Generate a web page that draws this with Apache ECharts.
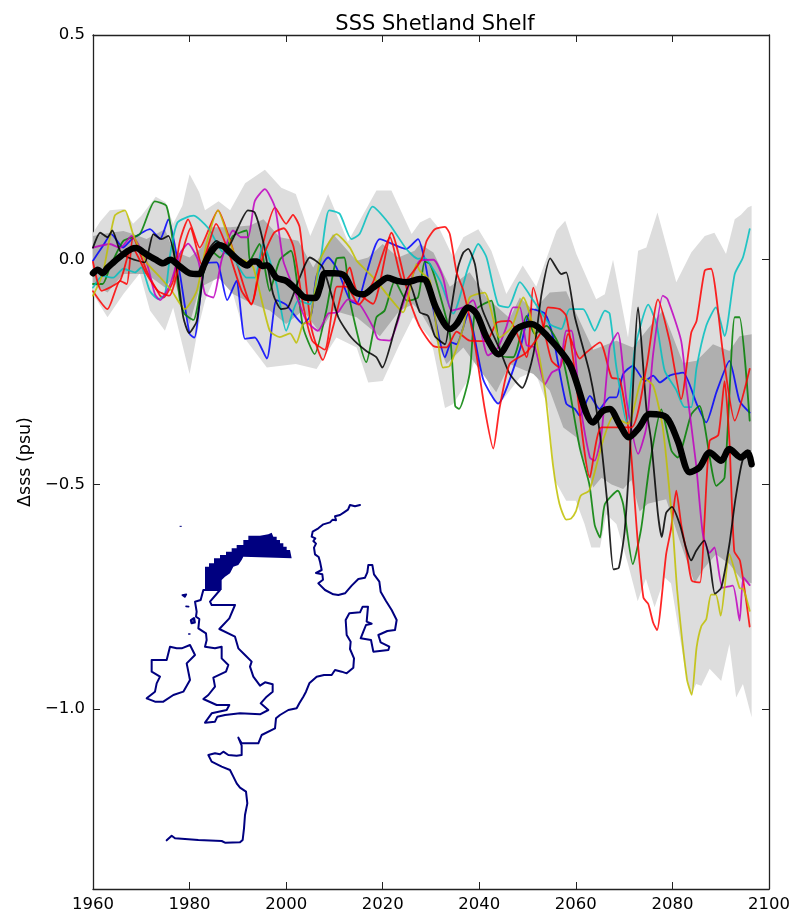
<!DOCTYPE html>
<html>
<head>
<meta charset="utf-8">
<style>html,body{margin:0;padding:0;background:#fff}#c{width:800px;height:915px}</style>
<script src="https://cdn.jsdelivr.net/npm/echarts@6/dist/echarts.min.js"></script>
</head>
<body>
<div id="c"></div>
<script>
const title = "SSS Shetland Shelf";
const yName = "Δsss (psu)";
const xTicks = [1960,1980,2000,2020,2040,2060,2080,2100];
const yTicks = [0.5,0,-0.5,-1.0];

const outerUpper = [[1960,.06],[1961.5,.085],[1963.5,.11],[1966.3,.113],[1968.3,.08],[1970,.098],[1973,.14],[1975,.128],[1976.6,.08],[1978.5,.12],[1980,.19],[1982,.15],[1983.2,.11],[1986,.13],[1988.4,.11],[1991.5,.17],[1995.6,.2],[1999,.16],[2002,.146],[2005,.053],[2008.7,.146],[2012.8,.04],[2018.7,.154],[2021.8,.154],[2026,.057],[2027.7,.083],[2029.8,.094],[2031.8,.068],[2034.6,.005],[2036.7,.05],[2039.8,.068],[2042.5,.02],[2045.6,-.076],[2049,-.013],[2051.8,-.06],[2056,.065],[2057.8,.087],[2060.1,.013],[2064.2,-.088],[2066,-.077],[2067.7,0],[2070.8,-.173],[2072.9,.02],[2074.6,.027],[2076.9,.105],[2080.8,-.05],[2083.9,.016],[2086.7,.053],[2088.7,.06],[2091.1,.013],[2092.9,.09],[2094.2,.1],[2095.6,.116],[2096.4,.12]];
const outerLower = [[1960,-.076],[1963,-.128],[1966.3,-.076],[1969.7,-.03],[1971.8,-.113],[1974.9,-.158],[1976.6,-.106],[1980,-.254],[1981.8,-.151],[1983.2,-.091],[1986,-.017],[1989,-.076],[1991.8,-.18],[1996,-.24],[2002,-.232],[2006.3,-.243],[2010.4,-.173],[2014.6,-.195],[2017,-.273],[2020,-.27],[2023.5,-.188],[2026.3,-.128],[2029.7,-.173],[2030.5,-.202],[2032.9,-.33],[2034.6,-.321],[2038,-.262],[2039.8,-.195],[2042.9,-.314],[2044.2,-.321],[2048.4,-.262],[2051.5,-.247],[2054.3,-.33],[2055.6,-.49],[2058,-.536],[2060,-.536],[2061.8,-.588],[2063.2,-.64],[2065,-.64],[2066.3,-.566],[2068.4,-.588],[2070.8,-.677],[2072.8,-.76],[2074.5,-.71],[2076.3,-.773],[2078.4,-.707],[2079.7,-.72],[2082.8,-.922],[2083.9,-.967],[2084.9,-.944],[2086,-.948],[2087.7,-.91],[2090.1,-.937],[2091.8,-.855],[2093.2,-.974],[2094.6,-.944],[2096.4,-1.018]];
const innerUpper = [[1960,.053],[1963.5,.06],[1966.3,.064],[1968.3,.057],[1971.1,.046],[1974.9,.068],[1976.6,.02],[1980,.005],[1982.5,.027],[1984.6,.072],[1988.4,.072],[1992.5,.076],[1995.3,.09],[1998.7,.05],[2002.5,.042],[2005.6,-.017],[2009.7,.057],[2014.6,-.002],[2017,.005],[2020,.035],[2023.2,.005],[2026.6,.02],[2027.7,.035],[2030.5,.016],[2033.9,-.06],[2038,-.028],[2041.5,-.084],[2046.3,-.13],[2048.4,-.084],[2051.2,-.113],[2054.6,-.073],[2058,-.07],[2060.1,-.12],[2063.6,-.2],[2068.4,-.18],[2071.8,-.195],[2074.6,-.158],[2078,-.113],[2082.2,-.23],[2085,-.225],[2088.4,-.188],[2091.8,-.203],[2093.9,-.17],[2096.4,-.166]];
const innerLower = [[1960,-.054],[1963,-.073],[1966.3,-.032],[1971.1,-.032],[1974.9,-.062],[1976.6,-.04],[1980,-.143],[1982.1,-.062],[1986,-.04],[1989,-.076],[1993.2,-.099],[1996.6,-.113],[2000,-.143],[2003.5,-.113],[2007,-.162],[2009.7,-.113],[2014.6,-.128],[2019.4,-.17],[2023.5,-.113],[2026.3,-.099],[2027.7,-.114],[2030.5,-.165],[2033.2,-.232],[2036.7,-.195],[2043.5,-.295],[2046.3,-.232],[2051.2,-.254],[2054.6,-.291],[2057.4,-.373],[2060.1,-.395],[2063.6,-.507],[2065.3,-.485],[2067.4,-.5],[2069.8,-.51],[2071.5,-.49],[2073.2,-.56],[2074.9,-.543],[2078.7,-.533],[2081.5,-.625],[2084.6,-.72],[2086.3,-.69],[2089,-.655],[2091.8,-.677],[2094.5,-.714],[2096.4,-.72]];

const meanLine = [[1960,-.03],[1961,-.022],[1962,-.03],[1963,-.018],[1964,-.008],[1966,.01],[1968,.024],[1969,.026],[1970.5,.016],[1972,.006],[1973,0],[1974.5,-.008],[1976,0],[1978,-.015],[1980,-.03],[1982,-.032],[1983,-.012],[1984,.01],[1986,.033],[1987,.03],[1988,.02],[1990,0],[1992,-.013],[1993,-.004],[1994,-.004],[1995,-.014],[1996,-.012],[1998,-.04],[2000,-.047],[2002,-.065],[2004,-.084],[2006,-.085],[2007,-.062],[2008,-.03],[2010,-.03],[2012,-.035],[2014,-.07],[2016,-.077],[2018,-.062],[2019.5,-.05],[2021,-.04],[2023,-.047],[2025,-.05],[2027.7,-.043],[2029,-.047],[2031,-.106],[2034,-.154],[2035.3,-.143],[2037.7,-.106],[2039.4,-.12],[2041.5,-.173],[2044,-.21],[2047.7,-.154],[2050.8,-.143],[2054,-.169],[2058.7,-.232],[2063.6,-.362],[2065.5,-.337],[2067,-.332],[2069,-.365],[2071,-.395],[2073,-.375],[2075.3,-.343],[2078.7,-.35],[2081.1,-.403],[2083.6,-.473],[2085.6,-.462],[2087.7,-.429],[2090.1,-.447],[2091.8,-.421],[2094.2,-.44],[2095.6,-.429],[2096.4,-.455]];

const blueLine = [[1960,-.002],[1962,.03],[1963.8,.057],[1966.2,.027],[1968,.045],[1971.8,.068],[1973.9,.046],[1975.6,.09],[1978,-.032],[1980,-.165],[1981,-.173],[1983.2,-.01],[1985.6,-.006],[1987.8,-.09],[1989.7,-.047],[1991.5,-.176],[1993.5,-.173],[1996,-.22],[1998,-.09],[2000,-.1],[2003.5,-.143],[2005.2,-.121],[2006.3,-.036],[2008.7,.005],[2010.4,-.017],[2013.2,-.09],[2014.6,-.098],[2016.6,-.032],[2019.4,.046],[2024.9,.024],[2027.3,.046],[2028.7,-.002],[2030.8,-.128],[2032.9,-.217],[2034.2,-.184],[2035.3,-.188],[2037.7,-.12],[2040.8,-.266],[2043.9,-.32],[2048.4,-.2],[2050.8,-.11],[2053.6,-.12],[2055.3,-.173],[2058,-.32],[2059.8,-.332],[2060.8,-.347],[2062.9,-.303],[2064.9,-.332],[2067,-.306],[2068.4,-.306],[2069.8,-.254],[2071.8,-.236],[2074.3,-.27],[2076,-.258],[2077.4,-.273],[2079.4,-.258],[2082.2,-.251],[2085,-.32],[2087,-.362],[2089.1,-.295],[2091.8,-.225],[2093.9,-.314],[2096,-.34]];
const greenLine = [[1960,-.054],[1962,-.054],[1963.5,-.017],[1966.3,.042],[1969.7,.057],[1972.8,.13],[1975.2,.12],[1976.6,.035],[1978,-.09],[1979,-.121],[1980.8,-.134],[1982.8,-.032],[1984.5,.02],[1986.3,.005],[1989,.053],[1991.8,.065],[1992.5,-.002],[1994.5,.035],[1996.6,-.069],[1998.7,0],[2001,.02],[2003.5,-.15],[2005.9,-.21],[2008.3,-.114],[2010.4,.002],[2012,.005],[2013.2,-.091],[2016.6,-.228],[2018.7,-.128],[2020.4,-.113],[2022.5,-.047],[2025,-.091],[2027.3,-.084],[2028.7,-.004],[2029.8,-.01],[2031.2,-.054],[2033.9,-.165],[2035,-.325],[2035.8,-.332],[2038,-.254],[2039.1,-.113],[2040.8,-.099],[2042.5,-.091],[2044.6,-.213],[2047,-.217],[2049.8,-.125],[2051.5,-.165],[2053.9,-.147],[2056.7,-.195],[2058.7,-.291],[2060.8,-.418],[2062.8,-.5],[2063.9,-.59],[2065,-.618],[2066,-.544],[2068.7,-.514],[2069.8,-.544],[2071.8,-.677],[2073.5,-.6],[2075.3,-.455],[2077.7,-.333],[2079.8,-.425],[2081.1,-.44],[2083.9,-.344],[2085.6,-.325],[2089.1,-.503],[2090.8,-.484],[2092.9,-.128],[2093.9,-.128],[2096,-.358]];
const redLineA = [[1960,-.07],[1963,-.11],[1965.6,-.047],[1967,-.054],[1968.3,.05],[1971.1,-.024],[1973.9,-.08],[1974.6,-.084],[1976.6,-.047],[1978,.042],[1979.7,.09],[1982.1,.027],[1985.9,.11],[1988.4,.042],[1992.8,-.1],[1995.2,.035],[1997.7,.116],[2000,.08],[2001.4,.1],[2002.8,.072],[2005.2,-.15],[2007.6,-.223],[2009.7,-.15],[2013.2,-.017],[2014.6,-.07],[2018,-.098],[2021.8,.06],[2025.6,-.091],[2027.7,-.15],[2030.5,-.192],[2033.2,-.195],[2035.3,-.16],[2038,-.18],[2041.5,-.181],[2043.6,-.14],[2046.3,-.136],[2049.8,-.217],[2051.2,-.062],[2053.6,-.165],[2055,-.225],[2056.7,-.24],[2058.4,-.165],[2060.8,-.22],[2062.2,-.206],[2065,-.184],[2067.4,-.262],[2069.1,-.266],[2071.2,-.403],[2072.8,-.625],[2074,-.752],[2075,-.766],[2076,-.807],[2076.8,-.824],[2078.7,-.655],[2079.7,-.6],[2080.8,-.514],[2081.8,-.588],[2083,-.655],[2084,-.714],[2085.7,-.718],[2086.6,-.588],[2087.7,-.403],[2089.5,-.39],[2090.8,-.27],[2091.8,-.403],[2092.8,-.648],[2094,-.67],[2096,-.816]];
const redLineB = [[1960,-.005],[1961.8,-.069],[1965.6,-.047],[1968,.03],[1971,-.03],[1973.5,-.07],[1975.8,-.08],[1978.3,.01],[1980.2,.07],[1982.5,-.01],[1985.5,.08],[1988,.02],[1990.8,-.07],[1992.8,-.098],[1995,.0],[1997.5,.06],[1999.5,.07],[2001.5,.03],[2003.5,-.1],[2005.4,-.18],[2008,-.2],[2010.5,-.06],[2012.5,-.06],[2015,-.1],[2018,-.05],[2021.5,.05],[2024.3,-.05],[2028,.0],[2029.1,.042],[2030.8,.068],[2032.9,.073],[2033.9,.057],[2035.3,-.028],[2036.7,-.069],[2039.1,-.19],[2041.1,-.33],[2042.9,-.42],[2044.2,-.33],[2046.3,-.232],[2049.8,-.206],[2053.2,-.154],[2054.2,-.106],[2056.7,-.11],[2058,-.125],[2059.4,-.217],[2062.9,-.484],[2065.3,-.373],[2071.5,-.373],[2074.6,-.24],[2077,-.088],[2079.4,-.18],[2081.8,-.31],[2083.9,-.162],[2085,-.136],[2086.7,-.024],[2088,-.02],[2090.5,-.21],[2092.9,-.358],[2096,-.243]];
const cyanLine = [[1960,-.062],[1962,-.036],[1964.2,-.04],[1966.3,-.02],[1968.7,-.028],[1970,-.017],[1971.8,-.07],[1973.5,-.087],[1974.9,-.077],[1976,.013],[1977.5,.083],[1980.8,.098],[1983.9,.07],[1986.6,.02],[1989,.005],[1991.8,-.04],[1993.5,-.04],[1995.2,.035],[1998,-.054],[2000,-.158],[2002.5,-.091],[2004.9,-.099],[2007,-.01],[2008.9,.11],[2011.1,.102],[2013.5,.046],[2015.2,.057],[2017.9,.118],[2021.4,.079],[2024.9,.024],[2027.3,.002],[2028.7,.004],[2029.8,-.01],[2032,-.05],[2034.6,-.12],[2037.7,-.017],[2039.8,.035],[2041.5,.005],[2043.9,-.1],[2046,-.106],[2048.4,-.05],[2051.2,-.091],[2054.6,-.143],[2057,-.154],[2058.7,-.11],[2061.5,-.11],[2063.9,-.158],[2066,-.113],[2067,-.12],[2068.4,-.24],[2070.5,-.362],[2072.2,-.2],[2075,-.1],[2076.7,-.143],[2078.4,-.247],[2080.8,-.29],[2082.5,-.328],[2083.9,-.328],[2085,-.24],[2087,-.147],[2089,-.106],[2090.8,-.17],[2092.9,-.032],[2094.6,.005],[2096,.068]];
const magentaLine = [[1960,.027],[1963.5,.035],[1965.6,.026],[1968,.053],[1971,-.002],[1972.8,-.076],[1973.9,-.09],[1976,-.054],[1978,.013],[1979.7,.036],[1981.8,-.002],[1983.2,-.076],[1984.9,-.084],[1986.6,-.002],[1989,.065],[1990.7,.05],[1992.1,.05],[1993.5,.13],[1995.6,.157],[1997.7,.116],[1999.4,-.002],[2001.5,-.062],[2004.2,-.136],[2006.6,-.158],[2008.7,-.12],[2010.7,-.117],[2012.8,-.088],[2015.2,-.099],[2018,-.15],[2019,-.176],[2021.4,-.18],[2024.2,-.099],[2026.3,-.032],[2027.7,-.002],[2030.5,0],[2032.5,-.04],[2034.2,-.113],[2036.7,-.106],[2038.7,-.09],[2041.8,-.213],[2043.9,-.195],[2045.6,-.15],[2047,-.106],[2048.4,-.106],[2049.8,-.19],[2051.5,-.195],[2053.6,-.277],[2055,-.251],[2056.7,-.24],[2058,-.158],[2059.1,-.158],[2060.8,-.314],[2062.9,-.44],[2063.9,-.447],[2065.3,-.388],[2067,-.195],[2068.7,-.162],[2070.5,-.314],[2072.9,-.432],[2074.6,-.373],[2076,-.21],[2078,-.08],[2079,-.088],[2081.8,-.18],[2082.9,-.284],[2084.9,-.455],[2086.3,-.61],[2087.7,-.652],[2088.7,-.64],[2090.4,-.73],[2092.5,-.725],[2093.9,-.803],[2094.7,-.707],[2096,-.724]];
const yellowLine = [[1960,-.08],[1962,-.032],[1964.5,.098],[1966.6,.11],[1968.3,.057],[1971.1,-.006],[1973.9,-.039],[1976.3,-.069],[1979,-.11],[1981.5,-.069],[1983.5,.035],[1985.9,.11],[1988,.05],[1989.7,.005],[1991.5,-.002],[1993.2,-.017],[1996.6,-.158],[1998.7,-.172],[2000.8,-.164],[2002.1,-.185],[2003.5,-.143],[2004.9,-.136],[2007,-.002],[2010.4,.057],[2013.2,.027],[2014.6,-.002],[2016.6,-.024],[2018.7,-.047],[2021.4,-.084],[2024.2,-.117],[2027,-.01],[2027.7,-.025],[2029.8,-.047],[2032.5,-.24],[2033.9,-.236],[2036.7,-.15],[2038,-.084],[2041.1,-.073],[2044.2,-.173],[2046.7,-.15],[2049.1,-.084],[2051.5,-.165],[2053.6,-.291],[2055.3,-.46],[2056.6,-.543],[2058,-.578],[2059,-.576],[2060,-.56],[2061,-.525],[2062.8,-.513],[2065.6,-.403],[2067.7,-.35],[2070.8,-.365],[2073.9,-.262],[2076,-.28],[2078,-.373],[2080,-.588],[2081,-.737],[2083,-.933],[2084,-.968],[2085,-.863],[2086,-.815],[2087,-.8],[2088,-.745],[2089,-.745],[2090,-.792],[2091.8,-.655],[2093.9,-.73],[2094.7,-.733],[2096,-.781]];
const blackLine = [[1960,.027],[1961.5,.06],[1963,.05],[1964,.065],[1965.6,.02],[1967.3,.005],[1970.7,-.006],[1972.5,.057],[1974.2,.046],[1975.6,.053],[1977.3,-.017],[1978.7,-.128],[1979.9,-.163],[1981.5,-.136],[1983.5,.013],[1985.6,.042],[1987.7,.027],[1992.1,.11],[1993.5,.105],[1995.2,.042],[1997.3,-.076],[1999,-.11],[2000.4,-.106],[2002.8,-.04],[2004.9,.005],[2007.6,-.017],[2010.8,-.128],[2013.5,-.173],[2016.6,-.203],[2018.7,-.217],[2019.9,-.24],[2022.8,-.143],[2025.6,-.054],[2027.7,-.117],[2029.4,-.125],[2030.8,-.17],[2032.9,-.188],[2033.9,-.128],[2035.6,-.017],[2036.7,.016],[2037.7,.024],[2039.1,-.01],[2040.5,-.106],[2042.5,-.158],[2044.2,-.199],[2046.3,-.254],[2048.9,-.285],[2051.2,-.21],[2052.9,-.076],[2054.7,.003],[2057,-.032],[2058,-.028],[2059.8,-.128],[2062.9,-.254],[2065,-.388],[2066.6,-.55],[2067.8,-.689],[2068.9,-.685],[2070.1,-.604],[2071.1,-.447],[2072.9,-.106],[2074.6,-.33],[2075.6,-.403],[2077,-.566],[2077.8,-.617],[2078.7,-.563],[2079.9,-.55],[2081.5,-.588],[2082.8,-.64],[2083.9,-.669],[2084.9,-.648],[2086.6,-.625],[2087.7,-.67],[2088.8,-.743],[2090.1,-.73],[2091.8,-.633],[2093,-.536],[2094.5,-.447],[2096,-.425]];

// Map outlines in a local sketch frame (hidden axes)
const mapFrameX = [0,810];
const mapFrameY = [0,1080];
const coastContinent = [[660,30],[645,34],[630,30],[624,44],[612,52],[600,60],[585,64],[588,76],[578,74],[570,82],[550,88],[535,100],[518,110],[515,125],[526,130],[520,138],[528,146],[522,158],[525,178],[536,186],[540,200],[545,225],[528,234],[547,238],[549,254],[535,265],[555,285],[580,298],[595,300],[615,295],[635,272],[655,252],[675,248],[682,232],[685,210],[697,210],[702,238],[718,260],[722,290],[738,318],[755,345],[770,375],[765,405],[742,408],[715,420],[722,442],[748,455],[745,465],[700,470],[693,435],[662,430],[670,410],[678,390],[695,386],[680,380],[684,335],[668,335],[660,352],[628,355],[617,375],[620,420],[632,440],[630,462],[642,490],[640,518],[620,535],[605,530],[585,525],[575,540],[552,540],[530,545],[508,565],[498,590],[490,605],[478,625],[470,640],[445,645],[420,660],[408,670],[405,700],[365,720],[355,745],[305,745],[295,728],[305,752],[305,780],[290,782],[265,780],[250,770],[240,778],[225,775],[205,780],[215,800],[245,815],[270,825],[280,845],[290,865],[300,878],[318,890],[322,925],[315,960],[312,1000],[308,1035],[300,1042],[255,1043],[245,1038],[175,1035],[105,1030],[95,1022],[80,1036]];
const coastBritain = [[240,285],[190,285],[182,315],[165,320],[170,350],[168,365],[178,372],[175,400],[198,415],[200,435],[195,455],[225,460],[245,455],[245,490],[265,510],[258,530],[220,548],[225,575],[205,600],[190,612],[230,630],[268,630],[260,645],[215,655],[195,683],[225,680],[232,665],[255,660],[300,655],[360,658],[385,645],[362,625],[380,605],[398,590],[398,568],[375,562],[360,572],[340,545],[330,515],[335,500],[315,480],[295,460],[285,425],[238,402],[268,370],[285,330],[215,330],[210,320],[240,285]];
const coastIreland = [[20,610],[45,590],[50,565],[60,545],[35,530],[35,495],[80,495],[90,455],[110,460],[125,460],[150,450],[165,480],[140,505],[150,555],[130,590],[100,600],[70,620],[45,620],[20,610]];
const islandA = [[127,300],[133,294],[139,298],[135,306],[127,300]];
const islandB = [[138,334],[146,335],[149,341],[141,339],[138,334]];
const islandC = [[153,376],[162,370],[164,382],[155,384],[153,376]];
const islandD = [[146,417],[150,417]];
const islandE = [[120,94],[124,94]];
const shetlandRegion = [[195,285],[195,215],[207,215],[207,205],[222,205],[222,190],[240,190],[240,180],[258,180],[258,170],[275,170],[275,160],[290,160],[290,150],[310,150],[310,135],[325,135],[325,122],[360,122],[385,118],[395,113],[400,125],[410,125],[410,135],[420,135],[420,145],[430,145],[430,155],[440,155],[440,165],[450,165],[455,190],[310,185],[305,195],[295,210],[280,215],[270,235],[255,245],[245,255],[245,285]];

function polygonSeries(points, fill, xAxisIndex, yAxisIndex, z) {
  return {
    type: 'custom', coordinateSystem: 'cartesian2d', xAxisIndex, yAxisIndex, z, silent: true,
    clip: false,
    data: [points[0]],
    renderItem: (params, api) => ({
      type: 'polygon',
      shape: { points: points.map(p => api.coord(p)) },
      style: { fill }
    })
  };
}
function band(upper, lower, fill, z) {
  return polygonSeries(upper.concat(lower.slice().reverse()), fill, 0, 0, z);
}
function line(data, color, width, z, xi, yi, smooth) {
  return { type: 'line', data, showSymbol: false, symbol: 'none', smooth: smooth || false, animation: false, silent: true,
    xAxisIndex: xi || 0, yAxisIndex: yi || 0, z,
    lineStyle: { color, width, join: 'round', cap: 'round' } };
}

const font = 'DejaVu Sans';
const series = [
  band(outerUpper, outerLower, '#dddddd', 1),
  band(innerUpper, innerLower, '#afafaf', 2),
  line(blueLine, 'rgba(0,0,255,0.85)', 1.8, 3, 0, 0, 0.2),
  line(greenLine, 'rgba(0,128,0,0.85)', 1.8, 3, 0, 0, 0.2),
  line(redLineA, 'rgba(255,0,0,0.85)', 1.8, 3, 0, 0, 0.2),
  line(cyanLine, 'rgba(0,191,191,0.85)', 1.8, 3, 0, 0, 0.2),
  line(magentaLine, 'rgba(191,0,191,0.85)', 1.8, 3, 0, 0, 0.2),
  line(yellowLine, 'rgba(191,191,0,0.85)', 1.8, 3, 0, 0, 0.2),
  line(blackLine, 'rgba(0,0,0,0.85)', 1.8, 3, 0, 0, 0.2),
  line(redLineB, 'rgba(255,0,0,0.85)', 1.8, 3, 0, 0, 0.2),
  line(meanLine, '#000000', 6.5, 4, 0, 0, 0.3),
  polygonSeries(shetlandRegion, '#000080', 2, 2, 5),
  line(coastContinent, '#000080', 2, 5, 2, 2),
  line(coastBritain, '#000080', 2, 5, 2, 2),
  line(coastIreland, '#000080', 2, 5, 2, 2),
  line(islandA, '#000080', 1.6, 5, 2, 2),
  line(islandB, '#000080', 1.6, 5, 2, 2),
  line(islandC, '#000080', 2.4, 5, 2, 2),
  line(islandD, '#000080', 1.4, 5, 2, 2),
  line(islandE, '#000080', 1, 5, 2, 2)
];
const frame = { show: true, onZero: false, lineStyle: { color: '#222', width: 1.3 } };
const tick = (vals) => ({ show: true, inside: true, length: 7, customValues: vals, lineStyle: { color: '#222', width: 1 } });

const chart = echarts.init(document.getElementById('c'), null, { renderer: 'canvas' });
chart.setOption({
  animation: false,
  backgroundColor: '#fff',
  title: { text: title, left: 430, top: 9, textAlign: 'center',
    textStyle: { fontFamily: font, fontSize: 21, fontWeight: 'normal', color: '#000' } },
  grid: [
    { left: 93, right: 31, top: 35, bottom: 26 },
    { left: 140, top: 495, width: 270, height: 360 }
  ],
  xAxis: [
    { type: 'value', min: 1960, max: 2100, position: 'bottom', gridIndex: 0, splitLine: { show: false }, axisLine: frame,
      axisTick: tick(xTicks),
      axisLabel: { customValues: xTicks, fontFamily: font, fontSize: 16.5, color: '#000', margin: 7, formatter: v => String(v) } },
    { type: 'value', min: 1960, max: 2100, position: 'top', gridIndex: 0, splitLine: { show: false }, axisLine: frame,
      axisTick: tick(xTicks), axisLabel: { show: false } },
    { type: 'value', min: mapFrameX[0], max: mapFrameX[1], gridIndex: 1, show: false }
  ],
  yAxis: [
    { type: 'value', min: -1.4, max: 0.5, position: 'left', gridIndex: 0, splitLine: { show: false }, axisLine: frame,
      axisTick: tick(yTicks),
      name: yName, nameLocation: 'middle', nameGap: 59, nameRotate: 90,
      nameTextStyle: { fontFamily: font, fontSize: 17.5, color: '#000' },
      axisLabel: { customValues: yTicks, fontFamily: font, fontSize: 16.5, color: '#000', margin: 8,
        formatter: v => (v < 0 ? '\u2212' + Math.abs(v).toFixed(1) : v.toFixed(1)) } },
    { type: 'value', min: -1.4, max: 0.5, position: 'right', gridIndex: 0, splitLine: { show: false }, axisLine: frame,
      axisTick: tick(yTicks), axisLabel: { show: false } },
    { type: 'value', min: mapFrameY[0], max: mapFrameY[1], inverse: true, gridIndex: 1, show: false }
  ],
  series
});
</script>
</body>
</html>
